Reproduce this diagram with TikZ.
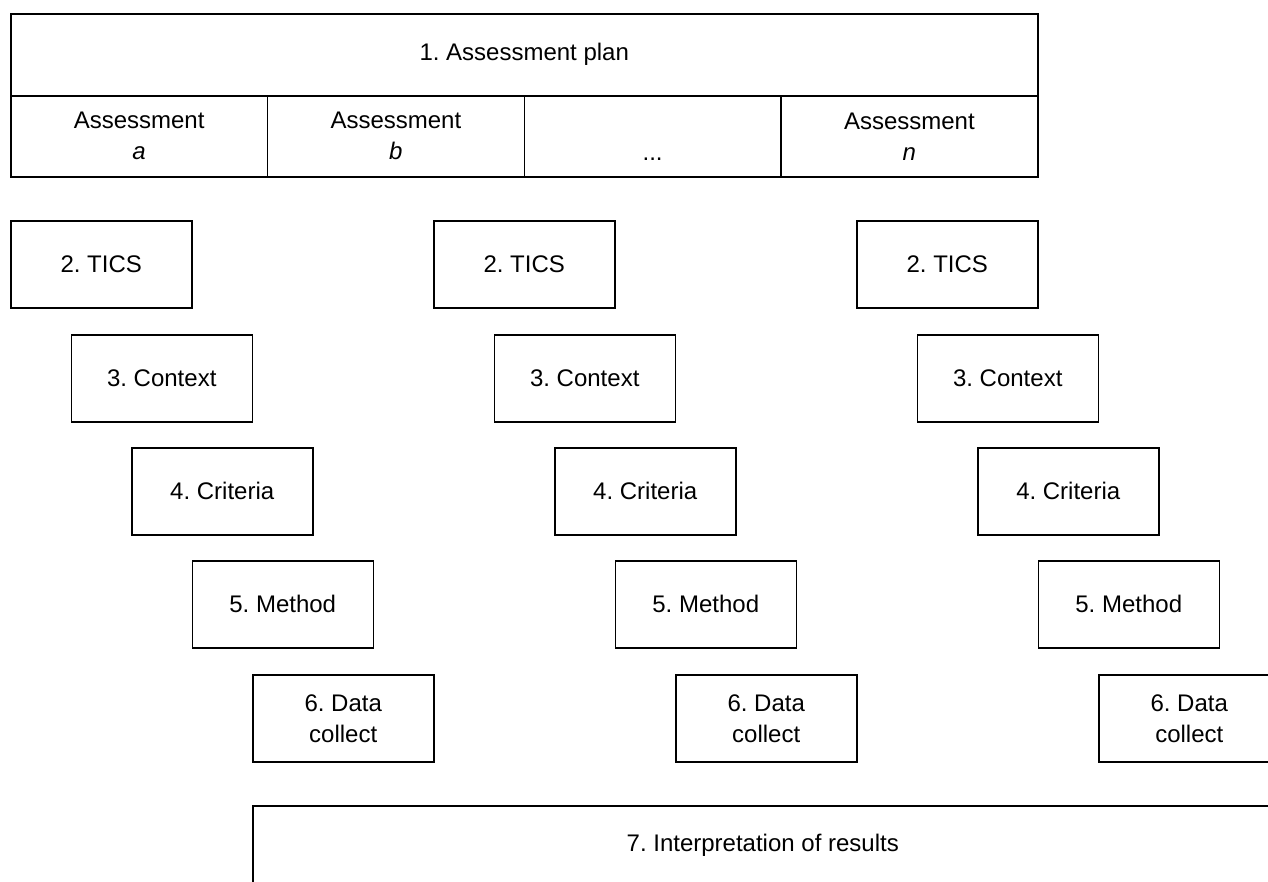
\documentclass[tikz,border=0pt]{standalone}
\usepackage{fontspec}
\setmainfont{Liberation Sans}
\frenchspacing
\begin{document}
\begin{tikzpicture}[x=1pt,y=-1pt,
  every node/.style={font=\fontsize{24}{31}\selectfont},
  stepbox/.style={draw,line width=1.5pt,minimum width=181pt,minimum height=87pt,inner sep=0pt,anchor=north west,align=center},
  cellbox/.style={draw,line width=1.5pt,minimum width=256.75pt,minimum height=81pt,inner sep=0pt,anchor=north west,align=center}]
\useasboundingbox (0,0) rectangle (1268,881);
\clip (0,0) rectangle (1268,881);
\fill[white] (0,0) rectangle (1268,881);
% top table
\node[cellbox,minimum width=1027pt,minimum height=82pt] (plan) at (10,13) {1. Assessment plan};
\node[cellbox] (ca) at (10,95) {Assessment\\\textit{a}};
\node[cellbox] (cb) at (266.75,95) {Assessment\\\textit{b}};
\node[cellbox] (cd) at (523.5,95) {\phantom{Assessment}\\...};
\node[cellbox] (cn) at (780.25,95) {Assessment\\\textit{n}};
% columns
\foreach \c/\x in {a/10,b/433,c/856}{
  \node[stepbox] (tics\c) at (\x,220) {2. TICS};
  \node[stepbox] (ctx\c) at (\x+60.5,334) {3. Context};
  \node[stepbox] (crit\c) at (\x+121,447) {4. Criteria};
  \node[stepbox] (meth\c) at (\x+181.5,560) {5. Method};
  \node[stepbox] (data\c) at (\x+242,674) {6. Data\\collect};
}
\node[stepbox,minimum width=1020pt,minimum height=80pt] (interp) at (252,805) {7. Interpretation of results};
\end{tikzpicture}
\end{document}
